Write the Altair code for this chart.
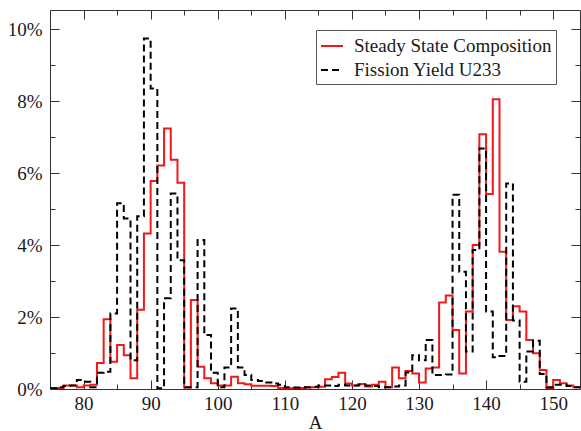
import altair as alt
import pandas as pd

# Mass number A (one bin per integer, bin spans [A, A+1))
mass_numbers = list(range(75, 155))

# Percent per mass number
steady_state = [
    0.02, 0.03, 0.10, 0.10, 0.05, 0.10, 0.12, 0.72, 1.94, 0.76,   # 75-84
    1.22, 0.94, 0.30, 2.20, 4.32, 5.78, 6.21, 7.24, 6.37, 5.73,   # 85-94
    0.04, 2.47, 0.62, 0.30, 0.16, 0.10, 0.10, 0.34, 0.16, 0.13,   # 95-104
    0.09, 0.09, 0.09, 0.08, 0.03, 0.02, 0.02, 0.03, 0.04, 0.05,   # 105-114
    0.06, 0.27, 0.33, 0.45, 0.15, 0.10, 0.14, 0.07, 0.12, 0.20,   # 115-124
    0.05, 0.60, 0.30, 0.50, 0.43, 0.18, 0.57, 0.60, 2.40, 2.60,   # 125-134
    1.64, 0.43, 2.15, 4.00, 7.08, 5.42, 8.05, 3.81, 1.92, 2.30,   # 135-144
    2.15, 1.36, 0.99, 0.53, 0.02, 0.25, 0.16, 0.10, 0.05, 0.03,   # 145-154
]
fission_yield_u233 = [
    0.02, 0.05, 0.08, 0.10, 0.25, 0.20, 0.05, 0.45, 0.48, 2.10,   # 75-84
    5.16, 4.74, 0.80, 4.80, 9.74, 8.35, 0.02, 2.52, 5.43, 3.58,   # 85-94
    0.05, 0.05, 4.14, 1.50, 0.45, 0.05, 0.60, 2.24, 0.60, 0.39,   # 95-104
    0.25, 0.22, 0.18, 0.15, 0.12, 0.05, 0.04, 0.04, 0.05, 0.06,   # 105-114
    0.10, 0.10, 0.08, 0.12, 0.10, 0.10, 0.12, 0.10, 0.08, 0.05,   # 115-124
    0.05, 0.07, 0.10, 0.46, 0.94, 0.80, 1.36, 0.39, 0.39, 0.40,   # 125-134
    5.40, 3.26, 1.04, 3.86, 6.68, 2.15, 0.88, 0.92, 5.71, 1.90,   # 135-144
    0.20, 1.04, 1.34, 0.42, 0.05, 0.12, 0.12, 0.08, 0.05, 0.03,   # 145-154
]

series_names = ["Steady State Composition", "Fission Yield U233"]
series_colors = ["#f01818", "#000000"]
series_dashes = [[1, 0], [7, 4]]

x_major = [80, 90, 100, 110, 120, 130, 140, 150]
x_minor = [85, 95, 105, 115, 125, 135, 145]
y_major = [0, 2, 4, 6, 8, 10]
y_minor = [1, 3, 5, 7, 9]

n = len(mass_numbers)
df = pd.DataFrame({
    "A": mass_numbers * 2,
    "value": steady_state + fission_yield_u233,
    "series": [series_names[0]] * n + [series_names[1]] * n,
})

FONT = "Liberation Serif"
TEXT = "#1a1a1a"
FRAME = "#333333"
W, H = 530, 379

x_scale = alt.Scale(domain=[75, 154], nice=False, zero=False)
y_scale = alt.Scale(domain=[0, 10.53], nice=False, zero=False)


def inward_axis(orient, values, size, **extra):
    # ticks pulled inside the frame by offsetting the axis line inward
    return alt.Axis(
        orient=orient, values=values, tickSize=size, offset=-size,
        domain=False, grid=False, ticks=True, tickColor=FRAME, tickWidth=1,
        **extra,
    )


bottom_major = inward_axis(
    "bottom", x_major, 9, labels=True, labelFont=FONT, labelFontSize=19,
    labelColor=TEXT, labelPadding=5, format="d", title="A", titleFont=FONT,
    titleFontSize=19, titleFontWeight="normal", titleColor=TEXT, titlePadding=0,
)
left_major = inward_axis(
    "left", y_major, 9, labels=True, labelFont=FONT, labelFontSize=19,
    labelColor=TEXT, labelPadding=8, labelExpr="datum.value + '%'", title=None,
)
top_major = inward_axis("top", x_major, 9, labels=False, title=None)
right_major = inward_axis("right", y_major, 9, labels=False, title=None)
bottom_minor = inward_axis("bottom", x_minor, 5, labels=False, title=None)
left_minor = inward_axis("left", y_minor, 5, labels=False, title=None)
top_minor = inward_axis("top", x_minor, 5, labels=False, title=None)
right_minor = inward_axis("right", y_minor, 5, labels=False, title=None)

legend = alt.Legend(
    title=None, orient="none", legendX=266, legendY=20,
    strokeColor="#555555", fillColor="white", padding=4, cornerRadius=0,
    labelFont=FONT, labelFontSize=19, labelColor=TEXT, labelOffset=10,
    labelLimit=0, symbolSize=484, symbolStrokeWidth=2, symbolType="stroke",
    rowPadding=2,
)
color_enc = alt.Color(
    "series:N", scale=alt.Scale(domain=series_names, range=series_colors),
    legend=legend,
)
dash_enc = alt.StrokeDash(
    "series:N", scale=alt.Scale(domain=series_names, range=series_dashes),
    legend=legend,
)

base = alt.Chart(df)

steady_layer = base.transform_filter(
    alt.datum.series == series_names[0]
).mark_line(
    interpolate="step-after", strokeWidth=2, clip=True, strokeJoin="miter"
).encode(
    x=alt.X("A:Q", scale=x_scale, axis=bottom_major),
    y=alt.Y("value:Q", scale=y_scale, axis=left_major),
    color=color_enc,
    strokeDash=dash_enc,
)

yield_layer = base.transform_filter(
    alt.datum.series == series_names[1]
).mark_line(
    interpolate="step-after", strokeWidth=2, clip=True, strokeJoin="miter"
).encode(
    x=alt.X("A:Q", scale=x_scale, axis=top_major),
    y=alt.Y("value:Q", scale=y_scale, axis=right_major),
    color=color_enc,
    strokeDash=dash_enc,
)

# transparent carriers for the minor tick axes
minor_a = base.mark_line(strokeOpacity=0).encode(
    x=alt.X("A:Q", scale=x_scale, axis=bottom_minor),
    y=alt.Y("value:Q", scale=y_scale, axis=left_minor),
    detail="series:N",
)
minor_b = base.mark_line(strokeOpacity=0).encode(
    x=alt.X("A:Q", scale=x_scale, axis=top_minor),
    y=alt.Y("value:Q", scale=y_scale, axis=right_minor),
    detail="series:N",
)

chart = alt.layer(
    steady_layer, yield_layer, minor_a, minor_b
).resolve_axis(
    x="independent", y="independent"
).properties(
    width=W, height=H,
    autosize=alt.AutoSizeParams(type="none"),
    padding={"left": 50, "top": 10, "right": 1, "bottom": 42},
    background="white",
).configure_view(
    stroke=FRAME, strokeWidth=1
)

chart.save("out.html", embed_options={"renderer": "svg", "actions": False})
